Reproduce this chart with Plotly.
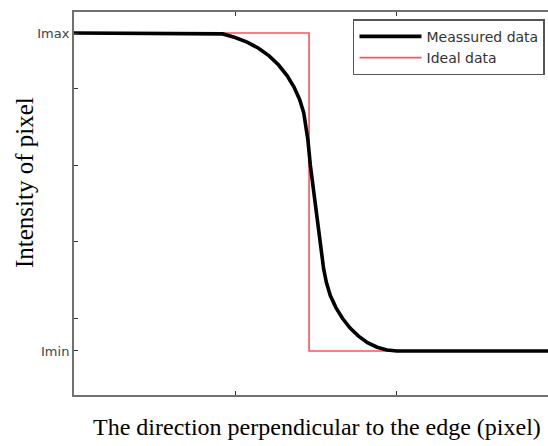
import plotly.graph_objects as go

# Intensity levels on either side of the edge
I_MIN = 0.115
I_MAX = 0.945
EDGE_X = 1.46

# Measured intensity profile across the edge
measured_x = [0.0, 0.40, 0.8447, 0.9236, 1.0006, 1.0752, 1.1460, 1.2118, 1.2708,
              1.3230, 1.3665, 1.4012, 1.4267, 1.4422, 1.4528, 1.4677, 1.4876, 1.5081,
              1.5273, 1.5385, 1.5503, 1.5677, 1.5919, 1.6267, 1.6683, 1.7149, 1.7671,
              1.8230, 1.8826, 1.9441, 2.0062, 2.5, 2.944]
measured_y = [0.945, 0.945, 0.945, 0.9428, 0.9332, 0.9214, 0.9055, 0.8854, 0.8616,
              0.8342, 0.8042, 0.7718, 0.7373, 0.7018, 0.6658, 0.6005, 0.5352, 0.4700,
              0.4047, 0.3668, 0.3298, 0.2937, 0.2598, 0.2282, 0.1997, 0.1747, 0.1538,
              0.1368, 0.1248, 0.1175, 0.115, 0.115, 0.115]

# Ideal step edge
ideal_x = [0.0, EDGE_X, EDGE_X, 2.944]
ideal_y = [I_MAX, I_MAX, I_MIN, I_MIN]

y_tickvals = [I_MIN, 0.2, 0.4, 0.6, 0.8, I_MAX]
y_ticktext = ["Imin", "", "", "", "", "Imax"]
x_tickvals = [1, 2]

fig = go.Figure()
fig.add_trace(go.Scatter(x=ideal_x, y=ideal_y, mode="lines", name="Ideal data",
                         line=dict(color="rgb(255,80,95)", width=1.6)))
fig.add_trace(go.Scatter(x=measured_x, y=measured_y, mode="lines", name="Meassured data",
                         line=dict(color="black", width=3.6)))

axis_col = "#707070"
fig.update_layout(
    width=548, height=446,
    margin=dict(l=74, r=0, t=12, b=51),
    plot_bgcolor="white", paper_bgcolor="white",
    showlegend=True,
    legend=dict(x=0.5886, y=0.981, xanchor="left", yanchor="top",
                traceorder="reversed", itemwidth=62,
                bgcolor="white", bordercolor="#555555", borderwidth=1.5,
                font=dict(family="DejaVu Sans", size=14, color="#333333"),
                tracegroupgap=0),
    xaxis=dict(range=[0, 2.944], tickvals=x_tickvals, ticktext=["", ""],
               ticks="inside", ticklen=4, tickcolor="#333", tickwidth=1.2,
               showline=True, linecolor=axis_col, linewidth=2, mirror="ticks",
               showgrid=False, zeroline=False),
    yaxis=dict(range=[0, 1], tickvals=y_tickvals, ticktext=y_ticktext,
               ticks="inside", ticklen=4, tickcolor="#333", tickwidth=1.2,
               showline=True, linecolor=axis_col, linewidth=2, mirror=False,
               showgrid=False, zeroline=False,
               tickfont=dict(family="DejaVu Sans", size=13, color="#444444")),
    annotations=[
        dict(text="The direction perpendicular to the edge (pixel)",
             xref="paper", yref="paper", x=(317 - 74) / 474, y=(395 - 427) / 383,
             xanchor="center", yanchor="middle", showarrow=False,
             font=dict(family="Liberation Serif", size=24, color="black")),
        dict(text="Intensity of pixel", textangle=-90,
             xref="paper", yref="paper", x=(24 - 74) / 474, y=(395 - 183) / 383,
             xanchor="center", yanchor="middle", showarrow=False,
             font=dict(family="Liberation Serif", size=25, color="black")),
    ],
)

fig.write_html("out.html")
